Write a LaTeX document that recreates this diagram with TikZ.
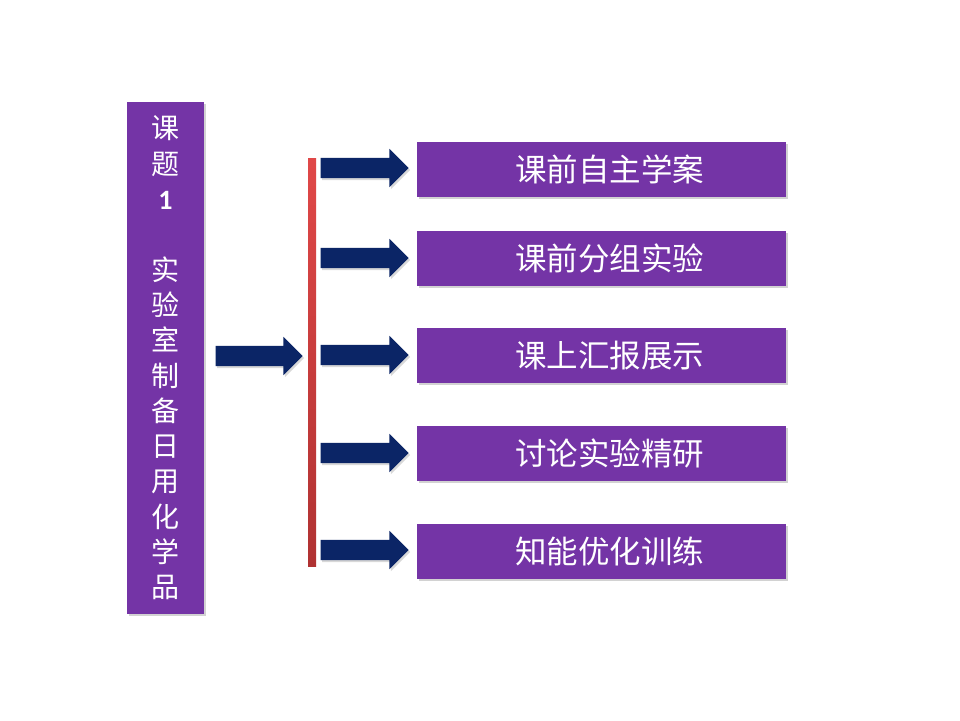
\documentclass[tikz,border=0pt]{standalone}
\usepackage{fontspec}
\newfontfamily\cjk{Noto Sans CJK SC}
\newfontfamily\numfont{Carlito}
\usetikzlibrary{shapes.arrows,shadows}
\definecolor{boxpurple}{HTML}{7434A6}
\definecolor{arrownavy}{HTML}{0B2566}
\definecolor{bartop}{HTML}{E04848}
\definecolor{barbot}{HTML}{B03232}
\tikzset{
  purplebox/.style={fill=boxpurple, draw=none, inner sep=0pt, text=white,
    drop shadow={opacity=0.35, shadow xshift=1.5pt, shadow yshift=-2pt}},
  itembox/.style={purplebox, minimum width=369pt, minimum height=55pt},
  itemtext/.style={text=white, inner sep=0pt, font=\cjk\fontsize{31.5}{34}\selectfont},
  navyarrow/.style={shape=single arrow, fill=arrownavy, draw=none,
    inner xsep=0pt, inner ysep=10pt, single arrow head extend=9pt,
    single arrow tip angle=90, single arrow head indent=0pt,
    minimum height=88pt, text width=0pt, text height=0pt, text depth=0pt,
    drop shadow={opacity=0.3, shadow xshift=1.5pt, shadow yshift=-2pt}},
}
\begin{document}
\begin{tikzpicture}[x=1pt,y=-1pt]
\useasboundingbox[fill=white] (0,0) rectangle (960,720);
% left title box
\node[purplebox, minimum width=77pt, minimum height=512pt, align=center,
  font=\cjk\fontsize{28}{35.3}\selectfont] (title) at (165.5,358)
  {课\\题\\{\numfont\bfseries 1}\\[35.3pt]实\\验\\室\\制\\备\\日\\用\\化\\学\\品};
% vertical bar
\node[shade, top color=bartop, bottom color=barbot, minimum width=8pt,
  minimum height=408pt, inner sep=0pt] (bar) at (312,362) {};
% big arrow
\node[navyarrow, minimum height=87pt] (bigarrow) at (254,356) {};
% right boxes
\node[itembox] (b1) at (601.5,169.5) {};
\node[itembox] (b2) at (601.5,258.5) {};
\node[itembox] (b3) at (601.5,355.5) {};
\node[itembox] (b4) at (601.5,453.5) {};
\node[itembox] (b5) at (601.5,551) {};
\node[itemtext] (t1) at ([xshift=8pt]b1.center) {课前自主学案};
\node[itemtext] (t2) at ([xshift=8pt]b2.center) {课前分组实验};
\node[itemtext] (t3) at ([xshift=8pt]b3.center) {课上汇报展示};
\node[itemtext] (t4) at ([xshift=8pt]b4.center) {讨论实验精研};
\node[itemtext] (t5) at ([xshift=8pt]b5.center) {知能优化训练};
% small arrows
\node[navyarrow] (a1) at (359.5,168) {};
\node[navyarrow] (a2) at (359.5,258) {};
\node[navyarrow] (a3) at (359.5,355) {};
\node[navyarrow] (a4) at (359.5,453) {};
\node[navyarrow] (a5) at (359.5,550) {};
\end{tikzpicture}
\end{document}
